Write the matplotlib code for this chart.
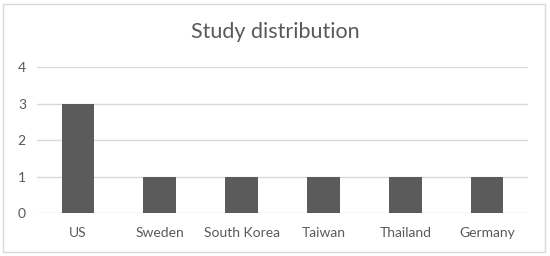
import matplotlib.pyplot as plt
from matplotlib.patches import Rectangle

countries = ["US", "Sweden", "South Korea", "Taiwan", "Thailand", "Germany"]
studies = [3, 1, 1, 1, 1, 1]
yticks = [0, 1, 2, 3, 4]

plt.rcParams['font.family'] = ['Lato', 'DejaVu Sans']
txt = '#595959'

fig = plt.figure(figsize=(5.5, 2.56), dpi=100)
ax = fig.add_axes([0.0673, 0.168, 0.8927, 0.570])

x = range(len(countries))
ax.bar(x, studies, width=0.4, color='#5b5b5b', zorder=3)
ax.set_xlim(-0.5, len(countries) - 0.5)
ax.set_ylim(0, 4)
ax.set_yticks(yticks)
ax.set_xticks(list(x))
ax.set_xticklabels(countries)
ax.yaxis.grid(True, color='#d9d9d9', linewidth=1)
for s in ax.spines.values():
    s.set_visible(False)
ax.tick_params(length=0, colors=txt, labelsize=10)
ax.tick_params(axis='x', pad=10)
ax.tick_params(axis='y', pad=8)

fig.text(0.5, 0.875, "Study distribution", ha='center', va='center',
         fontsize=15.5, color=txt)
fig.patches.append(Rectangle((0.006, 0.014), 0.985, 0.97, transform=fig.transFigure,
                             fill=False, edgecolor='#d9d9d9', linewidth=1))

fig.savefig("out.png", dpi=100)
